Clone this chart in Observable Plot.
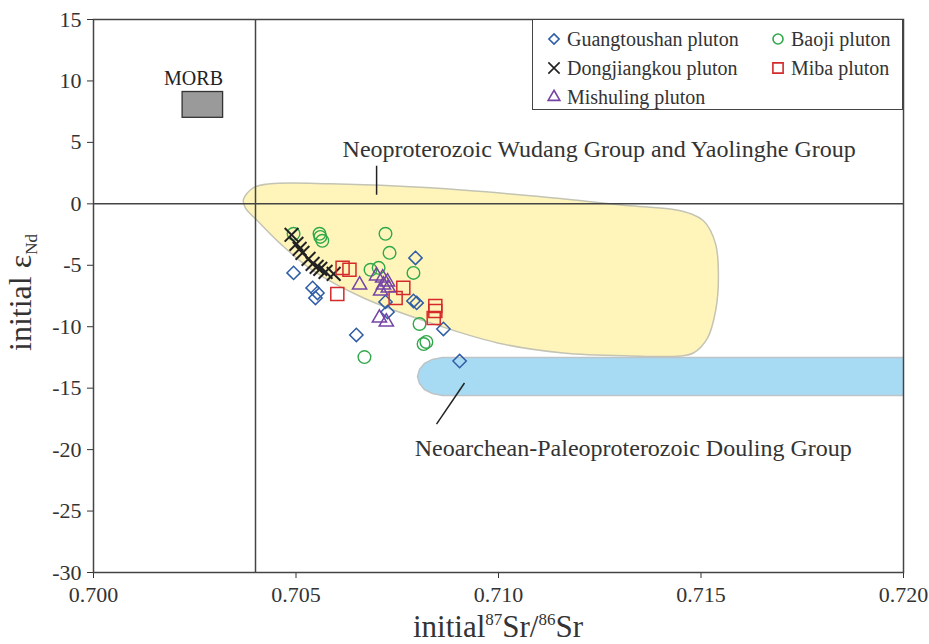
<!DOCTYPE html>
<html><head><meta charset="utf-8">
<script src="https://cdn.jsdelivr.net/npm/d3@7"></script>
<script src="https://cdn.jsdelivr.net/npm/@observablehq/plot@0.6"></script>
<style>
body{margin:0;background:#fff;}
#wrap{position:relative;width:929px;height:644px;font-family:"Liberation Serif","Times New Roman",serif;}
#wrap svg, #wrap svg text{font-family:"Liberation Serif","Times New Roman",serif !important;}
.legend{position:absolute;left:532px;top:19px;width:371px;height:91px;border:1.5px solid #444;box-sizing:border-box;background:#fff;}
.item{position:absolute;display:flex;align-items:center;font-size:20px;color:#333;white-space:nowrap;height:28px;}
.item svg{margin-right:5px;overflow:visible;}
</style></head><body><div id="wrap"></div>
<script>
// ---- data ----
const xTicks = [0.700, 0.705, 0.710, 0.715, 0.720];
const yTicks = [-30, -25, -20, -15, -10, -5, 0, 5, 10, 15];

const seriesNames = ["Guangtoushan pluton", "Baoji pluton", "Dongjiangkou pluton", "Miba pluton", "Mishuling pluton"];

const guangtoushanSr = [0.70494, 0.70541, 0.70553, 0.70548, 0.70649, 0.70795, 0.70790, 0.70798, 0.70864, 0.70904, 0.70721, 0.70726];
const guangtoushanNd = [-5.62, -6.84, -7.25, -7.66, -10.67, -4.40, -7.90, -8.06, -10.18, -12.79, -7.98, -8.80];

const baojiSr = [0.70494, 0.70558, 0.70565, 0.70560, 0.70721, 0.70731, 0.70790, 0.70684, 0.70704, 0.70805, 0.70822, 0.70815, 0.70669];
const baojiNd = [-2.44, -2.44, -3.01, -2.69, -2.44, -3.99, -5.62, -5.37, -5.21, -9.78, -11.24, -11.41, -12.47];

const dongjiangkouSr = [0.70489, 0.70501, 0.70509, 0.70516, 0.70531, 0.70541, 0.70551, 0.70560, 0.70573, 0.70593];
const dongjiangkouNd = [-2.52, -3.26, -3.66, -3.99, -4.48, -4.89, -5.13, -5.29, -5.54, -5.70];

const mibaSr = [0.70615, 0.70632, 0.70602, 0.70765, 0.70746, 0.70844, 0.70844, 0.70840];
const mibaNd = [-5.21, -5.37, -7.33, -6.84, -7.66, -8.31, -8.72, -9.29];

const mishulingSr = [0.70657, 0.70699, 0.70714, 0.70726, 0.70716, 0.70728, 0.70709, 0.70706, 0.70723];
const mishulingNd = [-6.60, -5.86, -6.03, -6.35, -6.60, -6.84, -7.09, -9.29, -9.61];

// field outlines (Sr, Nd)
const wudangSr = [0.70370, 0.70395, 0.70437, 0.70585, 0.70832, 0.71079, 0.71326, 0.71449, 0.71506, 0.71536, 0.71543, 0.71536, 0.71516, 0.71481, 0.71449, 0.71326, 0.71160, 0.70998, 0.70832, 0.70667, 0.70543, 0.70462, 0.70405, 0.70375];
const wudangNd = [0.33, 1.31, 1.63, 1.63, 1.31, 0.66, -0.16, -0.57, -1.38, -3.26, -6.03, -8.72, -10.92, -12.14, -12.38, -12.38, -12.14, -11.32, -9.69, -7.66, -5.46, -3.26, -1.38, -0.32];

const doulingSr = [0.72050, 0.70862, 0.70837, 0.70817, 0.70805, 0.70800, 0.70805, 0.70817, 0.70837, 0.70862, 0.72050];
const doulingNd = [-12.50, -12.50, -12.66, -12.99, -13.48, -14.05, -14.62, -15.11, -15.43, -15.59, -15.59];

const morbSr = [0.7022, 0.7032];
const morbNd = [7.0, 9.1];
const morbLabel = {text: "MORB", sr: 0.70247, nd: 10.2};

const bulkEarthSr = [0.704];
const bulkEarthNd = [0];

const annotations = [
  {text: "Neoproterozoic Wudang Group and Yaolinghe Group", sr: 0.70615, nd: 4.4},
  {text: "Neoarchean-Paleoproterozoic Douling Group", sr: 0.70793, nd: -19.9}
];
const leaders = [
  {sr1: 0.70699, nd1: 3.1, sr2: 0.70699, nd2: 0.74},
  {sr1: 0.70916, nd1: -14.58, sr2: 0.70847, nd2: -17.93}
];

// ---- build ----
const zip = (xs, ys) => xs.map((x, i) => ({x, y: ys[i]}));
const styles = {
  "Guangtoushan pluton": {symbol: "diamond2", color: "#2f5da6", r: 6, sw: 1.5},
  "Baoji pluton": {symbol: "circle", color: "#2fa84a", r: 6.3, sw: 1.4},
  "Dongjiangkou pluton": {symbol: "times", color: "#222", r: 6.3, sw: 2},
  "Miba pluton": {symbol: "square2", color: "#d32b2b", r: 8.3, sw: 1.5},
  "Mishuling pluton": {symbol: "triangle2", color: "#7545a6", r: 6.8, sw: 1.5}
};
const seriesData = {
  "Guangtoushan pluton": zip(guangtoushanSr, guangtoushanNd),
  "Baoji pluton": zip(baojiSr, baojiNd),
  "Dongjiangkou pluton": zip(dongjiangkouSr, dongjiangkouNd),
  "Miba pluton": zip(mibaSr, mibaNd),
  "Mishuling pluton": zip(mishulingSr, mishulingNd)
};

const W = 929, H = 644, mL = 93, mR = 26, mT = 19, mB = 72;
const font = "'Liberation Serif', 'Times New Roman', serif";

const plot = Plot.plot({
  width: W, height: H,
  marginLeft: mL, marginRight: mR, marginTop: mT, marginBottom: mB,
  style: {fontFamily: font, fontSize: "22px", color: "#333", background: "transparent", overflow: "visible"},
  x: {domain: [0.700, 0.720], ticks: xTicks, tickFormat: d3.format(".3f"), tickSize: 6, tickPadding: 8, label: null},
  y: {domain: [-30, 15], ticks: yTicks, tickFormat: d => String(d), tickSize: 6, tickPadding: 6, label: null},
  marks: [
    Plot.line(zip(wudangSr, wudangNd), {x: "x", y: "y", curve: "catmull-rom-closed", fill: "#fff5bb", stroke: "#c4c4b4", strokeWidth: 1.5, clip: true}),
    Plot.line(zip(doulingSr, doulingNd), {x: "x", y: "y", curve: "linear-closed", fill: "#a7dbf4", stroke: "#bcc4c8", strokeWidth: 1.5, clip: true}),
    Plot.ruleX(bulkEarthSr, {stroke: "#444", strokeWidth: 1.5}),
    Plot.ruleY(bulkEarthNd, {stroke: "#444", strokeWidth: 1.5}),
    Plot.rect([{x1: morbSr[0], x2: morbSr[1], y1: morbNd[0], y2: morbNd[1]}], {x1: "x1", x2: "x2", y1: "y1", y2: "y2", fill: "#9a9a9a", stroke: "#333", strokeWidth: 1.3}),
    Plot.text([morbLabel], {x: "sr", y: "nd", text: "text", fontSize: 20, fill: "#222"}),
    Plot.link(leaders, {x1: "sr1", y1: "nd1", x2: "sr2", y2: "nd2", stroke: "#222", strokeWidth: 1.5}),
    Plot.text(annotations, {x: "sr", y: "nd", text: "text", textAnchor: "start", fontSize: 24, fill: "#333"}),
    ...seriesNames.map(name => Plot.dot(seriesData[name], {x: "x", y: "y", symbol: styles[name].symbol, stroke: styles[name].color, fill: "none", r: styles[name].r, strokeWidth: styles[name].sw})),
    Plot.frame({stroke: "#444", strokeWidth: 1.5})
  ]
});

const svg = d3.select(plot);
svg.selectAll("text").attr("font-family", font).style("font-family", font).style("font-variant", "normal");
const cx = (mL + W - mR) / 2, cy = (mT + H - mB) / 2;
const xt = svg.append("text").attr("x", cx).attr("y", H - 7).attr("text-anchor", "middle")
  .attr("font-size", 31).attr("fill", "#333").style("font-family", font);
xt.append("tspan").text("initial");
xt.append("tspan").attr("font-size", 17).attr("dy", -12).text("87");
xt.append("tspan").attr("dy", 12).text("Sr/");
xt.append("tspan").attr("font-size", 17).attr("dy", -12).text("86");
xt.append("tspan").attr("dy", 12).text("Sr");

const yt = svg.append("text").attr("transform", `translate(31,${cy - 3}) rotate(-90)`).attr("text-anchor", "middle")
  .attr("font-size", 32).attr("fill", "#333").style("font-family", font);
yt.append("tspan").text("initial ε");
yt.append("tspan").attr("font-size", 17).attr("dy", 6).text("Nd");

const wrap = document.getElementById("wrap");
wrap.appendChild(plot);

// legend
const legend = document.createElement("div");
legend.className = "legend";
const colX = [13, 237], rowY = [5, 34, 63];
const symMap = {diamond2: d3.symbolDiamond2, circle: d3.symbolCircle, times: d3.symbolTimes, square2: d3.symbolSquare2, triangle2: d3.symbolTriangle2};
seriesNames.forEach((name, i) => {
  const st = styles[name];
  const item = document.createElement("div");
  item.className = "item";
  item.style.left = colX[i % 2] + "px";
  item.style.top = rowY[Math.floor(i / 2)] + "px";
  const s = d3.create("svg").attr("width", 16).attr("height", 16).attr("viewBox", "-8 -8 16 16");
  const legR = {diamond2: 4.6, circle: 5, times: 5.2, square2: 6.5, triangle2: 5.6}[st.symbol];
  s.append("path").attr("d", d3.symbol(symMap[st.symbol], Math.PI * legR * legR)()).attr("fill", "none").attr("stroke", st.color).attr("stroke-width", 1.6);
  item.appendChild(s.node());
  const t = document.createElement("span");
  t.textContent = name;
  item.appendChild(t);
  legend.appendChild(item);
});
wrap.appendChild(legend);
</script></body></html>
